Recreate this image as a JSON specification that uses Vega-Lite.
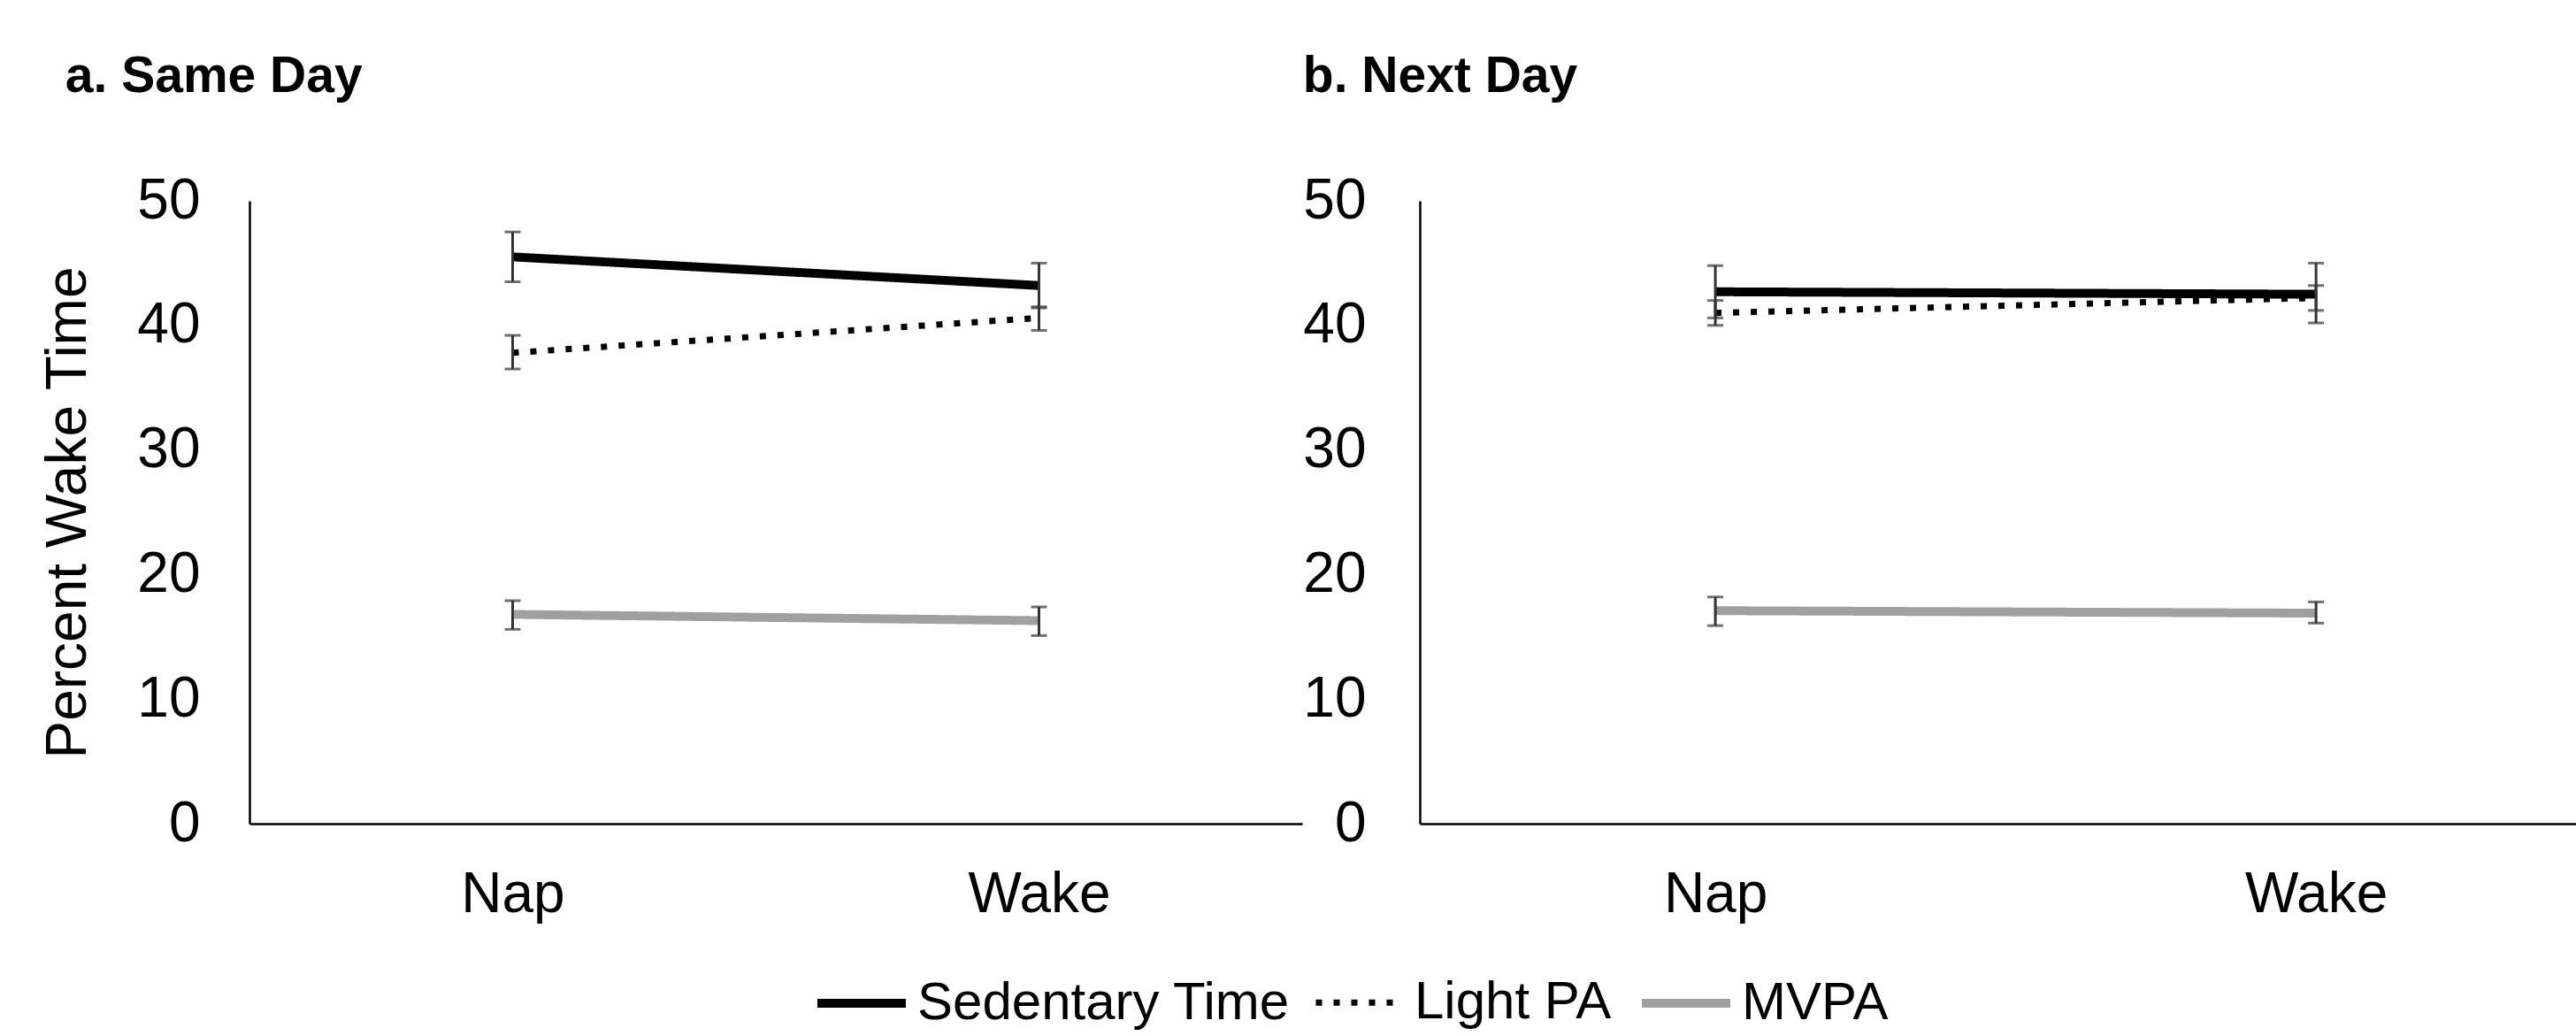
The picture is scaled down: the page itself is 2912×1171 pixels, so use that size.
{
  "$schema": "https://vega.github.io/schema/vega-lite/v6.json",
  "background": "white",
  "padding": {"left": 45, "top": 58, "right": 0, "bottom": 0},
  "data": {
    "values": [
      {"panel": "a", "cond": "Nap", "measure": "Sedentary Time", "mean": 45.5, "lo": 43.5, "hi": 47.5},
      {"panel": "a", "cond": "Wake", "measure": "Sedentary Time", "mean": 43.2, "lo": 41.4, "hi": 45.0},
      {"panel": "a", "cond": "Nap", "measure": "Light PA", "mean": 37.8, "lo": 36.5, "hi": 39.2},
      {"panel": "a", "cond": "Wake", "measure": "Light PA", "mean": 40.6, "lo": 39.6, "hi": 41.5},
      {"panel": "a", "cond": "Nap", "measure": "MVPA", "mean": 16.8, "lo": 15.6, "hi": 17.9},
      {"panel": "a", "cond": "Wake", "measure": "MVPA", "mean": 16.3, "lo": 15.1, "hi": 17.4},
      {"panel": "b", "cond": "Nap", "measure": "Sedentary Time", "mean": 42.7, "lo": 40.6, "hi": 44.8},
      {"panel": "b", "cond": "Wake", "measure": "Sedentary Time", "mean": 42.5, "lo": 40.2, "hi": 45.0},
      {"panel": "b", "cond": "Nap", "measure": "Light PA", "mean": 41.0, "lo": 40.0, "hi": 42.0},
      {"panel": "b", "cond": "Wake", "measure": "Light PA", "mean": 42.2, "lo": 41.2, "hi": 43.2},
      {"panel": "b", "cond": "Nap", "measure": "MVPA", "mean": 17.1, "lo": 15.9, "hi": 18.2},
      {"panel": "b", "cond": "Wake", "measure": "MVPA", "mean": 16.9, "lo": 16.1, "hi": 17.8}
    ]
  },
  "spacing": 0,
  "resolve": {
    "scale": {"color": "shared", "strokeDash": "shared", "strokeWidth": "shared"},
    "legend": {"color": "shared", "strokeDash": "shared", "strokeWidth": "shared"}
  },
  "hconcat": [
    {
      "title": {"text": "a. Same Day", "anchor": "start", "frame": "bounds", "dx": 28, "offset": 34, "baseline": "alphabetic"},
      "width": 1190,
      "height": 704,
      "transform": [{"filter": "datum.panel === 'a'"}],
      "encoding": {
        "x": {
          "field": "cond", "type": "nominal", "sort": ["Nap", "Wake"],
          "scale": {"type": "point", "padding": 0.5},
          "axis": {"title": null, "labelAngle": 0, "ticks": false, "labelFontSize": 64, "labelPadding": 48, "domainColor": "black", "domainWidth": 2.5, "labelColor": "black", "labelFont": "Liberation Sans"}
        }
      },
      "layer": [
        {
          "mark": {"type": "line"},
          "encoding": {
            "y": {
              "field": "mean", "type": "quantitative", "title": "Percent Wake Time",
              "scale": {"domain": [0, 50], "nice": false, "zero": true},
              "axis": {"values": [0, 10, 20, 30, 40, 50], "grid": false, "ticks": false, "domainColor": "black", "domainWidth": 2.5, "labelFontSize": 64, "labelPadding": 56, "labelColor": "black", "labelFont": "Liberation Sans", "titleFontSize": 64, "titleFontWeight": "normal", "titleFont": "Liberation Sans", "titleColor": "black", "titlePadding": 45}
            },
            "color": {
              "field": "measure", "type": "nominal",
              "scale": {"domain": ["Sedentary Time", "Light PA", "MVPA"], "range": ["#000000", "#000000", "#a0a0a0"]},
              "legend": {"title": null, "orient": "none", "direction": "horizontal", "legendX": 637, "legendY": 852, "padding": 0, "symbolType": "stroke", "symbolSize": 10000, "labelFontSize": 60, "labelFont": "Liberation Sans", "labelColor": "black", "labelOffset": 8, "columnPadding": 14, "labelLimit": 1000}
            },
            "strokeDash": {
              "field": "measure", "type": "nominal",
              "scale": {"domain": ["Sedentary Time", "Light PA", "MVPA"], "range": [[1, 0], [7, 13], [1, 0]]},
              "legend": {"title": null, "orient": "none", "direction": "horizontal", "legendX": 637, "legendY": 852, "padding": 0, "symbolType": "stroke", "symbolSize": 10000, "labelFontSize": 60, "labelFont": "Liberation Sans", "labelColor": "black", "labelOffset": 8, "columnPadding": 14, "labelLimit": 1000}
            },
            "strokeWidth": {
              "field": "measure", "type": "nominal",
              "scale": {"type": "ordinal", "domain": ["Sedentary Time", "Light PA", "MVPA"], "range": [10, 7, 10]},
              "legend": {"title": null, "orient": "none", "direction": "horizontal", "legendX": 637, "legendY": 852, "padding": 0, "symbolType": "stroke", "symbolSize": 10000, "labelFontSize": 60, "labelFont": "Liberation Sans", "labelColor": "black", "labelOffset": 8, "columnPadding": 14, "labelLimit": 1000}
            }
          }
        },
        {
          "mark": {"type": "rule", "color": "#333333", "strokeWidth": 3},
          "encoding": {
            "y": {"field": "lo", "type": "quantitative", "title": "Percent Wake Time"},
            "y2": {"field": "hi"},
            "detail": {"field": "measure"}
          }
        },
        {
          "mark": {"type": "tick", "color": "#333333", "thickness": 3, "size": 18},
          "encoding": {"y": {"field": "lo", "type": "quantitative", "title": "Percent Wake Time"}}
        },
        {
          "mark": {"type": "tick", "color": "#333333", "thickness": 3, "size": 18},
          "encoding": {"y": {"field": "hi", "type": "quantitative", "title": "Percent Wake Time"}}
        }
      ]
    },
    {
      "title": {"text": "b. Next Day", "anchor": "start", "frame": "bounds", "dx": 0, "offset": 34, "baseline": "alphabetic"},
      "width": 1307,
      "height": 704,
      "transform": [{"filter": "datum.panel === 'b'"}],
      "encoding": {
        "x": {
          "field": "cond", "type": "nominal", "sort": ["Nap", "Wake"],
          "scale": {"type": "point", "padding": 0.4624, "align": 0.532},
          "axis": {"title": null, "labelAngle": 0, "ticks": false, "labelFontSize": 64, "labelPadding": 48, "domainColor": "black", "domainWidth": 2.5, "labelColor": "black", "labelFont": "Liberation Sans"}
        }
      },
      "layer": [
        {
          "mark": {"type": "line"},
          "encoding": {
            "y": {
              "field": "mean", "type": "quantitative", "title": null,
              "scale": {"domain": [0, 50], "nice": false, "zero": true},
              "axis": {"values": [0, 10, 20, 30, 40, 50], "grid": false, "ticks": false, "domainColor": "black", "domainWidth": 2.5, "labelFontSize": 64, "labelPadding": 61, "labelColor": "black", "labelFont": "Liberation Sans", "title": null}
            },
            "color": {
              "field": "measure", "type": "nominal",
              "scale": {"domain": ["Sedentary Time", "Light PA", "MVPA"], "range": ["#000000", "#000000", "#a0a0a0"]}
            },
            "strokeDash": {
              "field": "measure", "type": "nominal",
              "scale": {"domain": ["Sedentary Time", "Light PA", "MVPA"], "range": [[1, 0], [7, 13], [1, 0]]}
            },
            "strokeWidth": {
              "field": "measure", "type": "nominal",
              "scale": {"type": "ordinal", "domain": ["Sedentary Time", "Light PA", "MVPA"], "range": [10, 7, 10]}
            }
          }
        },
        {
          "mark": {"type": "rule", "color": "#333333", "strokeWidth": 3},
          "encoding": {
            "y": {"field": "lo", "type": "quantitative", "title": null},
            "y2": {"field": "hi"},
            "detail": {"field": "measure"}
          }
        },
        {
          "mark": {"type": "tick", "color": "#333333", "thickness": 3, "size": 18},
          "encoding": {"y": {"field": "lo", "type": "quantitative", "title": null}}
        },
        {
          "mark": {"type": "tick", "color": "#333333", "thickness": 3, "size": 18},
          "encoding": {"y": {"field": "hi", "type": "quantitative", "title": null}}
        }
      ]
    }
  ],
  "config": {
    "view": {"stroke": null},
    "font": "Liberation Sans",
    "title": {"font": "Liberation Sans", "fontSize": 57, "fontWeight": "bold", "color": "black"}
  }
}
